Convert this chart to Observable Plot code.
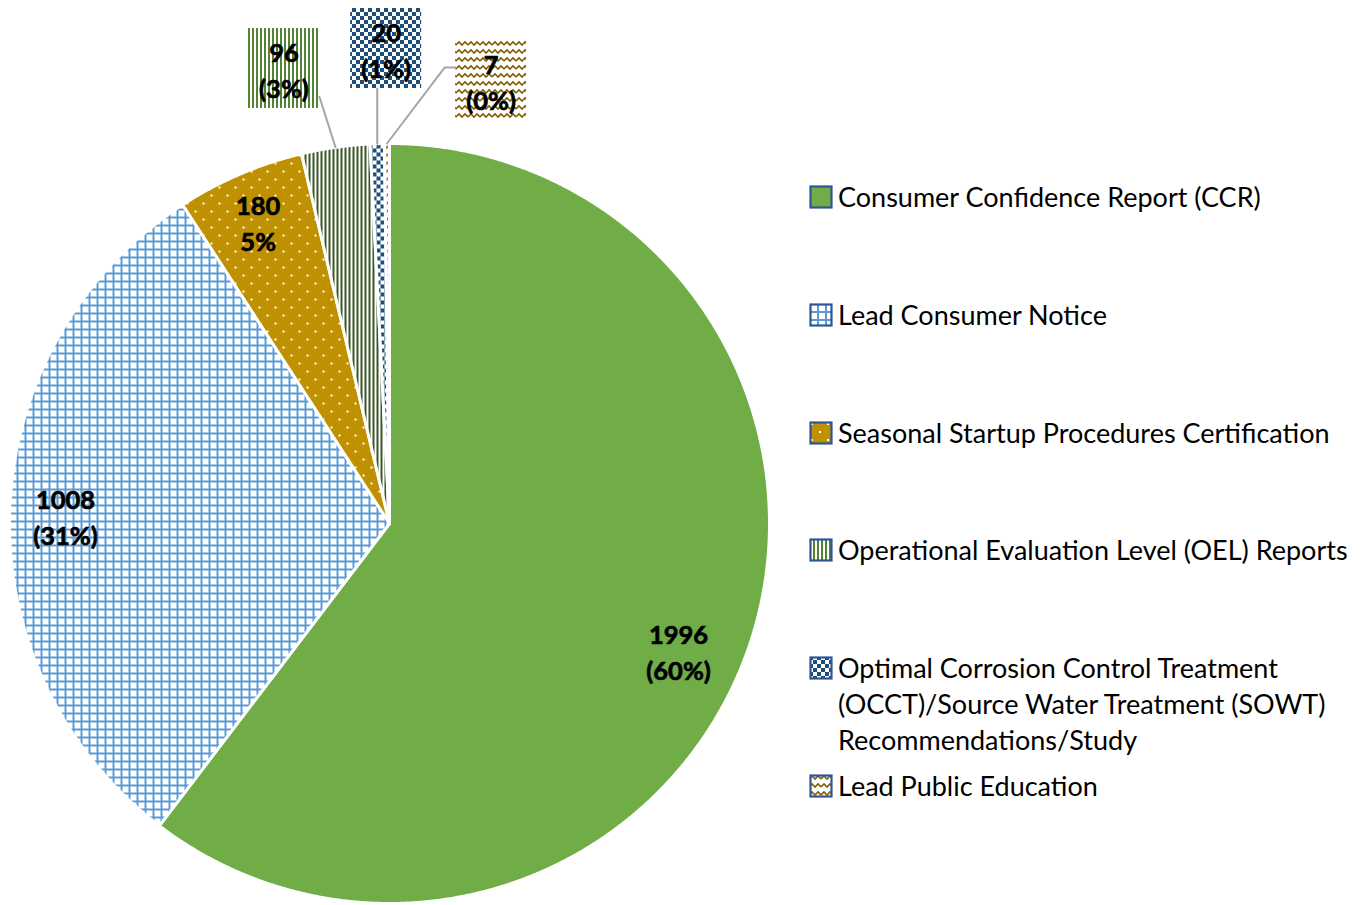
<!DOCTYPE html>
<html>
<head>
<meta charset="utf-8">
<script src="https://cdn.jsdelivr.net/npm/d3@7"></script>
<script src="https://cdn.jsdelivr.net/npm/@observablehq/plot@0.6"></script>
<style>
  html, body { margin: 0; padding: 0; background: #fff; }
  #wrap { position: relative; width: 1366px; height: 905px; overflow: hidden; font-family: Lato, "Noto Sans", sans-serif; }
  #chart { position: absolute; left: 0; top: 0; }
  .li { position: absolute; left: 809px; }
  .li svg { position: absolute; left: 0; top: 6px; }
  .lt { position: absolute; left: 29px; top: 0; white-space: nowrap; font-size: 27px; line-height: 36px; color: #000; }
</style>
</head>
<body>
<svg width="0" height="0" style="position:absolute">
  <defs>
    <pattern id="pGrid" width="8" height="8" patternUnits="userSpaceOnUse">
      <rect width="8" height="8" fill="#fff"/>
      <rect x="0" y="0" width="8" height="2" fill="#5B9BD5"/>
      <rect x="0" y="0" width="2" height="8" fill="#5B9BD5"/>
    </pattern>
    <pattern id="pDots" width="16" height="16" patternUnits="userSpaceOnUse">
      <rect width="16" height="16" fill="#BF9000"/>
      <rect x="2" y="2" width="2" height="2" fill="#fff"/>
      <rect x="10" y="10" width="2" height="2" fill="#fff"/>
    </pattern>
    <pattern id="pStripesDark" width="4" height="4" patternUnits="userSpaceOnUse">
      <rect width="4" height="4" fill="#fff"/>
      <rect x="0" y="0" width="2" height="4" fill="#375623"/>
    </pattern>
    <pattern id="pStripes" width="4" height="4" patternUnits="userSpaceOnUse">
      <rect width="4" height="4" fill="#fff"/>
      <rect x="0" y="0" width="2" height="4" fill="#548235"/>
    </pattern>
    <pattern id="pCheck" width="8" height="8" patternUnits="userSpaceOnUse">
      <rect width="8" height="8" fill="#fff"/>
      <rect x="0" y="0" width="4" height="4" fill="#1F4E79"/>
      <rect x="4" y="4" width="4" height="4" fill="#1F4E79"/>
    </pattern>
    <pattern id="pWave" width="12" height="8" patternUnits="userSpaceOnUse">
      <rect width="12" height="8" fill="#fff"/>
      <path d="M0,5 L3,2 L6,5 L9,2 L12,5" fill="none" stroke="#806000" stroke-width="1.6"/>
    </pattern>
  </defs>
</svg>
<div id="wrap">
  <div id="chart"></div>
  <div id="legend"></div>
</div>
<script>
// ---- data ----
const categories = [
  "Consumer Confidence Report (CCR)",
  "Lead Consumer Notice",
  "Seasonal Startup Procedures Certification",
  "Operational Evaluation Level (OEL) Reports",
  "Optimal Corrosion Control Treatment (OCCT)/Source Water Treatment (SOWT) Recommendations/Study",
  "Lead Public Education"
];
const counts = [1996, 1008, 180, 96, 20, 7];
const percentLabels = ["(60%)", "(31%)", "5%", "(3%)", "(1%)", "(0%)"];
const legendLines = [
  ["Consumer Confidence Report (CCR)"],
  ["Lead Consumer Notice"],
  ["Seasonal Startup Procedures Certification"],
  ["Operational Evaluation Level (OEL) Reports"],
  ["Optimal Corrosion Control Treatment", "(OCCT)/Source Water Treatment (SOWT)", "Recommendations/Study"],
  ["Lead Public Education"]
];

// ---- styles / layout ----
const sliceFills = ["#70AD47", "url(#pGrid)", "url(#pDots)", "url(#pStripesDark)", "url(#pCheck)", "url(#pWave)"];
const swatchFills = ["#70AD47", "url(#pGrid)", "url(#pDots)", "url(#pStripes)", "url(#pCheck)", "url(#pWave)"];
const boxFills = [null, null, null, "url(#pStripes)", "url(#pCheck)", "url(#pWave)"];
// label placement: angle shift from slice mid-angle (deg) and radius (fraction of pie radius)
const labelShift = [5.1, -0.75, -0.3, -4.9, 1.45, 13.3];
const labelRadius = [0.831, 0.853, 0.867, 1.229, 1.25, 1.196];
const leaderSide = [null, null, null, "right", "bottom", "left"];
const cx = 389, cy = 523, R = 380;
const boxHalfW = 35.5 / R, boxHalfH = 40 / R;

const rows = categories.map((c, i) => ({category: c, count: counts[i], pct: percentLabels[i], i}));
const arcs = d3.pie().sort(null).value(d => d.count)(rows);

const deg = Math.PI / 180;
const polys = arcs.map((a, i) => {
  const pts = [{x: 0, y: 0}];
  const n = Math.max(2, Math.ceil((a.endAngle - a.startAngle) / 0.004));
  for (let k = 0; k <= n; k++) {
    const t = a.startAngle + (a.endAngle - a.startAngle) * k / n;
    pts.push({x: Math.sin(t), y: Math.cos(t)});
  }
  pts.push({x: 0, y: 0});
  return pts;
});

const labels = arcs.map((a, i) => {
  const mid = (a.startAngle + a.endAngle) / 2 + labelShift[i] * deg;
  return {
    x: Math.sin(mid) * labelRadius[i],
    y: Math.cos(mid) * labelRadius[i],
    text: `${a.data.count}\n${a.data.pct}`,
    mid: (a.startAngle + a.endAngle) / 2,
    i
  };
});

const boxes = labels.filter(d => boxFills[d.i]);
const leaders = boxes.map(d => {
  const sx = Math.sin(d.mid) * 1.0, sy = Math.cos(d.mid) * 1.0;
  let pts;
  if (leaderSide[d.i] === "right") {
    pts = [{x: sx, y: sy}, {x: d.x + boxHalfW, y: d.y - boxHalfH + 0.031}];
  } else if (leaderSide[d.i] === "bottom") {
    pts = [{x: sx, y: sy}, {x: sx, y: d.y - boxHalfH}];
  } else {
    const ey = d.y + 0.034;
    pts = [{x: sx, y: sy}, {x: d.x - boxHalfW - 0.029, y: ey}, {x: d.x - boxHalfW, y: ey}];
  }
  return pts;
});

const marks = [];
polys.forEach((p, i) => {
  marks.push(Plot.line(p, {x: "x", y: "y", fill: sliceFills[i], stroke: "white", strokeWidth: 3, strokeLinejoin: "round"}));
});
boxes.forEach(d => {
  marks.push(Plot.rect([d], {x1: d => d.x - boxHalfW, x2: d => d.x + boxHalfW, y1: d => d.y - boxHalfH, y2: d => d.y + boxHalfH, fill: boxFills[d.i]}));
});
leaders.forEach(p => {
  marks.push(Plot.line(p, {x: "x", y: "y", stroke: "#A6A6A6", strokeWidth: 2}));
});
marks.push(Plot.text(labels, {
  x: "x", y: "y", text: "text",
  fontSize: 25.5, fontWeight: "bold", lineHeight: 1.41,
  fill: "#000", stroke: "#000", strokeWidth: 0.7,
  fontFamily: "Lato, 'Noto Sans', sans-serif"
}));

const svg = Plot.plot({
  width: 1366, height: 905, margin: 0,
  style: {background: "transparent", overflow: "visible"},
  x: {domain: [-1, 1], range: [cx - R, cx + R], axis: null},
  y: {domain: [-1, 1], range: [cy + R, cy - R], axis: null},
  marks
});
document.getElementById("chart").appendChild(svg);

// ---- legend ----
const legend = document.getElementById("legend");
legendLines.forEach((lines, i) => {
  const item = document.createElement("div");
  item.className = "li";
  item.style.top = (197 + i * 117.8 - 18) + "px";
  item.innerHTML = `<svg width="25" height="25"><rect x="1.5" y="1.5" width="21" height="21" fill="${swatchFills[i]}" stroke="#2F5597" stroke-width="2.2"/></svg><div class="lt">${lines.join("<br>")}</div>`;
  legend.appendChild(item);
});
</script>
</body>
</html>
